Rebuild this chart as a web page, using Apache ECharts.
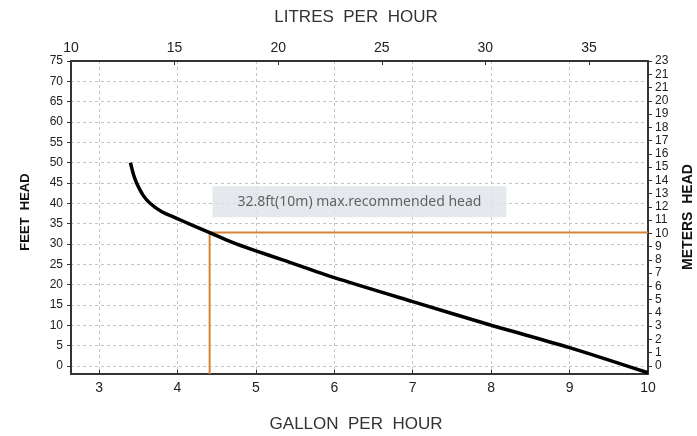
<!DOCTYPE html>
<html><head><meta charset="utf-8">
<script src="https://cdn.jsdelivr.net/npm/echarts@6/dist/echarts.min.js"></script>
<style>html,body{margin:0;padding:0;background:#fff}#c{width:697px;height:436px}</style>
</head><body><div id="c"></div>
<script>
// ---- data ----
const galFlow  = [3.40, 3.44, 3.48, 3.56, 3.65, 3.80, 3.99, 4.20, 4.41, 4.70, 5.00, 5.35, 6.00, 7.00, 8.00, 9.00, 10.00];
const feetHead = [50.0, 47.0, 44.9, 42.0, 40.0, 37.9, 36.3, 34.5, 32.8, 30.4, 28.3, 26.0, 21.7, 15.8, 10.0, 4.5, -1.7];
const refGal = 4.41;
const refFeet = 32.8;
const annotationText = '32.8ft(10m) max.recommended head';
const annotationAt = [6.32, 40.4];
const galTicks = [3, 4, 5, 6, 7, 8, 9, 10];
const feetTicks = [0, 5, 10, 15, 20, 25, 30, 35, 40, 45, 50, 55, 60, 65, 70, 75];
const meterTickValues = [0,1,2,3,4,5,6,7,8,9,10,11,12,13,14,15,16,17,18,19,20,21,22,23];
const meterTickLabels = ['0','1','2','3','4','5','6','7','8','9','10','11','12','13','14','15','16','17','18','19','20','21','21','23'];
const litreMin = 10, litreInterval = 5;
const galMax = 10;
const feetMin = -2, feetMax = 75;
const meterMax = 23;
const LPG = 3.785;   // litres per gallon
const FPM = 3.2808;  // feet per meter

const axisColor = '#333';
const font = 'Liberation Sans';
const chart = echarts.init(document.getElementById('c'));
chart.setOption({
  animation: false,
  grid: {left: 71, right: 49, top: 61, bottom: 62},
  xAxis: [
    {type: 'value', position: 'bottom', min: litreMin / LPG, max: galMax,
     axisLine: {show: true, onZero: false, lineStyle: {color: axisColor, width: 2}},
     axisTick: {show: true, inside: true, length: 4, customValues: galTicks, lineStyle: {color: axisColor}},
     axisLabel: {customValues: galTicks, fontSize: 14, color: '#222', margin: 7, fontFamily: font},
     splitLine: {show: true, lineStyle: {type: [3, 3], color: '#c4c4c4', width: 1}}},
    {type: 'value', position: 'top', min: litreMin, max: galMax * LPG, interval: litreInterval,
     axisLine: {show: true, onZero: false, lineStyle: {color: axisColor, width: 2}},
     axisTick: {show: true, inside: true, length: 4, lineStyle: {color: axisColor}},
     axisLabel: {fontSize: 14, color: '#222', margin: 6, fontFamily: font, showMaxLabel: false},
     splitLine: {show: false}}
  ],
  yAxis: [
    {type: 'value', position: 'left', min: feetMin, max: feetMax,
     axisLine: {show: true, onZero: false, lineStyle: {color: axisColor, width: 2}},
     axisTick: {show: true, inside: false, length: 4, customValues: feetTicks, lineStyle: {color: axisColor}},
     axisLabel: {customValues: feetTicks, fontSize: 12, color: '#222', margin: 8, fontFamily: font},
     splitLine: {show: true, lineStyle: {type: [3, 3], color: '#c4c4c4', width: 1}}},
    {type: 'value', position: 'right', min: feetMin / FPM, max: meterMax,
     axisLine: {show: true, onZero: false, lineStyle: {color: axisColor, width: 2}},
     axisTick: {show: true, inside: false, length: 4, customValues: meterTickValues, lineStyle: {color: axisColor}},
     axisLabel: {customValues: meterTickValues, showMaxLabel: true, showMinLabel: true, fontSize: 12, lineHeight: 11,
       color: '#222', margin: 7, fontFamily: font,
       formatter: v => meterTickLabels[meterTickValues.findIndex(t => Math.abs(t - v) < 1e-6)]},
     splitLine: {show: false}}
  ],
  graphic: [
    {type: 'text', x: 356, y: 17, style: {text: 'LITRES  PER  HOUR', font: '17px "Liberation Sans"', fill: '#333', textAlign: 'center', textVerticalAlign: 'middle'}},
    {type: 'text', x: 356, y: 424, style: {text: 'GALLON  PER  HOUR', font: '17px "Liberation Sans"', fill: '#333', textAlign: 'center', textVerticalAlign: 'middle'}},
    {type: 'text', x: 25, y: 212, rotation: Math.PI / 2, style: {text: 'FEET  HEAD', font: 'bold 13px "Liberation Sans"', fill: '#111', textAlign: 'center', textVerticalAlign: 'middle'}},
    {type: 'text', x: 688, y: 217, rotation: Math.PI / 2, style: {text: 'METERS  HEAD', font: 'bold 14px "Liberation Sans"', fill: '#111', textAlign: 'center', textVerticalAlign: 'middle'}}
  ],
  series: [
    {type: 'line', xAxisIndex: 0, yAxisIndex: 0, z: 3,
     data: [[refGal, feetMin], [refGal, refFeet], [galMax, refFeet]],
     showSymbol: false, symbol: 'none', lineStyle: {color: '#d68438', width: 2}},
    {type: 'line', xAxisIndex: 0, yAxisIndex: 0, z: 4,
     data: galFlow.map((g, i) => [g, feetHead[i]]),
     smooth: 0.25, showSymbol: false, symbol: 'none',
     lineStyle: {color: '#000', width: 3.5}},
    {type: 'scatter', xAxisIndex: 0, yAxisIndex: 0, z: 5, symbolSize: 0,
     data: [annotationAt],
     label: {show: true, position: 'inside', formatter: annotationText,
       backgroundColor: '#dfe3e8', color: '#404040', fontSize: 14, fontFamily: 'Noto Sans',
       width: 254, height: 15, lineHeight: 15, align: 'center', padding: [8, 20]}}
  ]
});
</script></body></html>
